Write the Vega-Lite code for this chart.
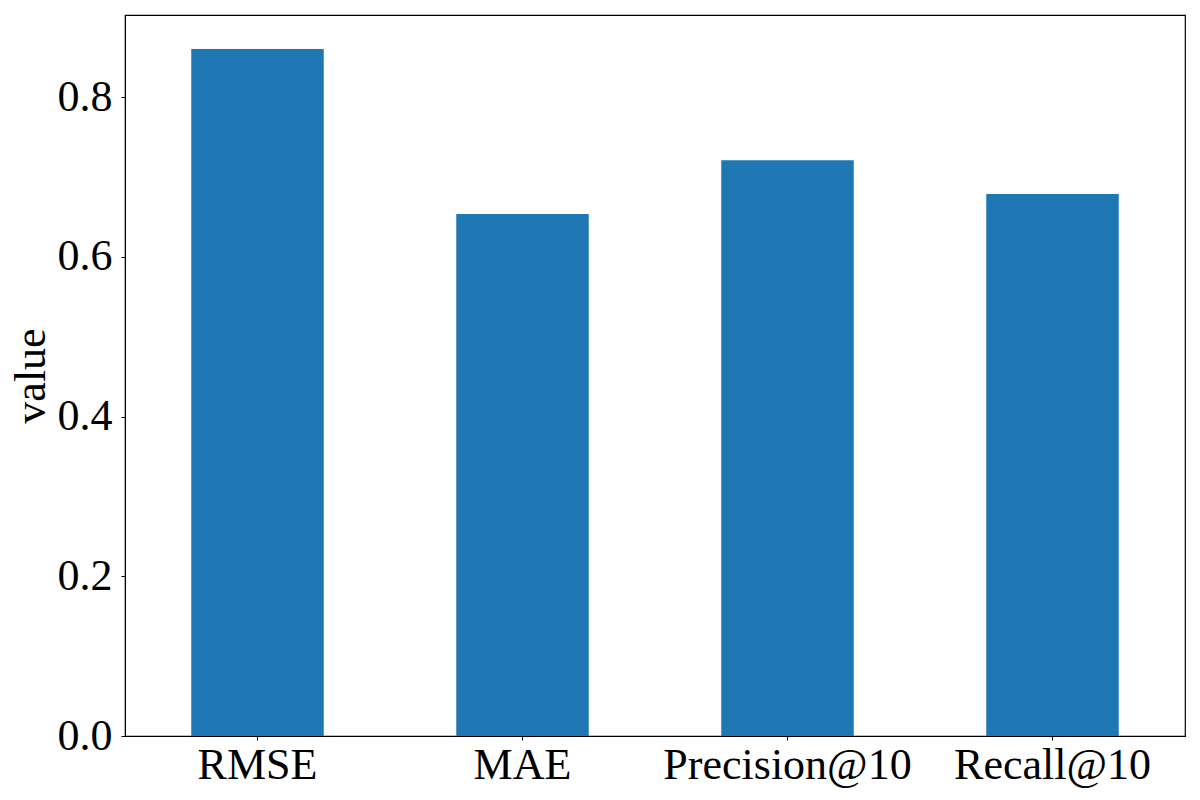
{
  "$schema": "https://vega.github.io/schema/vega-lite/v6.json",
  "autosize": {"type": "none"},
  "width": 1060,
  "height": 721,
  "padding": {"left": 125, "top": 15, "right": 15, "bottom": 64},
  "background": "white",
  "config": {
    "view": {"stroke": "black", "strokeWidth": 1.2},
    "font": "Liberation Serif",
    "axis": {
      "labelFont": "Liberation Serif",
      "titleFont": "Liberation Serif",
      "labelFontSize": 44,
      "titleFontSize": 44,
      "titleFontWeight": "normal",
      "labelColor": "black",
      "titleColor": "black",
      "domainColor": "black",
      "tickColor": "black",
      "tickSize": 4,
      "labelLimit": 0,
      "grid": false
    }
  },
  "data": {
    "values": [
      {"metric": "RMSE", "value": 0.860},
      {"metric": "MAE", "value": 0.6535},
      {"metric": "Precision@10", "value": 0.721},
      {"metric": "Recall@10", "value": 0.6786}
    ]
  },
  "mark": {"type": "bar", "color": "#1f77b4"},
  "encoding": {
    "x": {
      "field": "metric",
      "type": "nominal",
      "sort": null,
      "title": null,
      "scale": {"paddingInner": 0.5, "paddingOuter": 0.25},
      "axis": {"labelAngle": 0, "labelPadding": 3}
    },
    "y": {
      "field": "value",
      "type": "quantitative",
      "title": "value",
      "scale": {"domain": [0, 0.9027], "nice": false},
      "axis": {"values": [0, 0.2, 0.4, 0.6, 0.8], "format": ".1f", "labelPadding": 9, "titlePadding": 4}
    }
  }
}
